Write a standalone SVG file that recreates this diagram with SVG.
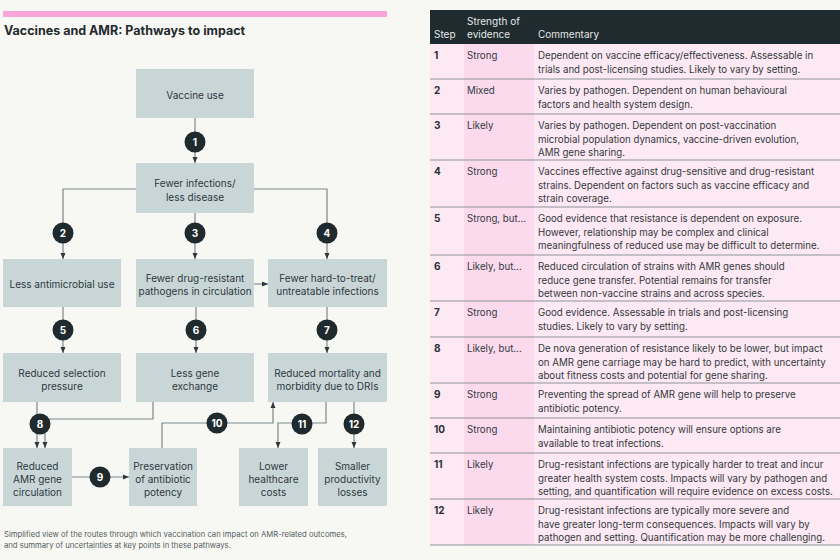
<svg xmlns="http://www.w3.org/2000/svg" width="840" height="560" viewBox="0 0 840 560">
<defs>
<style>
.f{font-family:Inter,"Liberation Sans",sans-serif}
.box{fill:#c9d6d8}
.bt{font-family:Inter,"Liberation Sans",sans-serif;font-size:10px;fill:#2e383d;text-anchor:middle}
.conn{stroke:#7d878b;stroke-width:1.2;fill:none}
.bc{fill:#1f2a2f}
.bn{font-family:Inter,"Liberation Sans",sans-serif;font-size:10px;font-weight:bold;fill:#ffffff;text-anchor:middle}
.th{font-family:Inter,"Liberation Sans",sans-serif;font-size:10px;fill:#e4e8e9}
.td{font-family:Inter,"Liberation Sans",sans-serif;font-size:9.7px;fill:#33393d}
.tn{font-family:Inter,"Liberation Sans",sans-serif;font-size:10px;fill:#2a2f33;font-weight:bold}
.sep{stroke:#8e9498;stroke-width:1.2}
</style>
<marker id="ah" markerUnits="userSpaceOnUse" markerWidth="6" markerHeight="6" refX="6" refY="3" orient="auto">
<path d="M0,0.5 L6,3 L0,5.5 z" fill="#2e383d"/>
</marker>
</defs>
<rect x="0" y="0" width="840" height="560" fill="#f7f8f4"/>
<rect x="3" y="11" width="384" height="6" fill="#fba6d9"/>
<text class="f" x="4" y="35" font-size="12.5" font-weight="bold" fill="#23292d">Vaccines and AMR: Pathways to impact</text>

<g id="connectors">
<path class="conn" d="M195,118 V163" marker-end="url(#ah)"/>
<path class="conn" d="M136,189 H63 V259" marker-end="url(#ah)"/>
<path class="conn" d="M254,189 H327 V259" marker-end="url(#ah)"/>
<path class="conn" d="M195,213 V259" marker-end="url(#ah)"/>
<path class="conn" d="M254,284 H268" marker-end="url(#ah)"/>
<path class="conn" d="M63,307 V353" marker-end="url(#ah)"/>
<path class="conn" d="M196,307 V353" marker-end="url(#ah)"/>
<path class="conn" d="M327,307 V353" marker-end="url(#ah)"/>
<path class="conn" d="M37,402 V448" marker-end="url(#ah)"/>
<path class="conn" d="M153,402 V419 H45 V448" marker-end="url(#ah)"/>
<path class="conn" d="M72,477 H129" marker-end="url(#ah)"/>
<path class="conn" d="M162,448 V423 H273 V402" marker-end="url(#ah)"/>
<path class="conn" d="M326,402 V423 H278 V448" marker-end="url(#ah)"/>
<path class="conn" d="M354,402 V448" marker-end="url(#ah)"/>
<g id="badges">
<circle class="bc" cx="195" cy="142" r="10.5"/><text class="bn" x="195" y="145.5">1</text>
<circle class="bc" cx="63" cy="233" r="10.5"/><text class="bn" x="63" y="236.5">2</text>
<circle class="bc" cx="195" cy="233" r="10.5"/><text class="bn" x="195" y="236.5">3</text>
<circle class="bc" cx="327" cy="233" r="10.5"/><text class="bn" x="327" y="236.5">4</text>
<circle class="bc" cx="63" cy="330" r="10.5"/><text class="bn" x="63" y="333.5">5</text>
<circle class="bc" cx="196" cy="330" r="10.5"/><text class="bn" x="196" y="333.5">6</text>
<circle class="bc" cx="327" cy="330" r="10.5"/><text class="bn" x="327" y="333.5">7</text>
<circle class="bc" cx="40" cy="424" r="10.5"/><text class="bn" x="40" y="427.5">8</text>
<circle class="bc" cx="100" cy="477" r="10.5"/><text class="bn" x="100" y="480.5">9</text>
<circle class="bc" cx="217" cy="423" r="10.5"/><text class="bn" x="217" y="426.5">10</text>
<circle class="bc" cx="302" cy="424" r="10.5"/><text class="bn" x="302" y="427.5">11</text>
<circle class="bc" cx="354" cy="424" r="10.5"/><text class="bn" x="354" y="427.5">12</text>
</g>
</g>

<g id="n-vaccine-use"><rect class="box" x="136" y="69" width="118" height="49"/><text class="bt" x="195" y="99">Vaccine use</text></g>
<g id="n-fewer-infections"><rect class="box" x="136" y="163" width="118" height="50"/><text class="bt" x="195" y="187">Fewer infections/</text><text class="bt" x="195" y="201">less disease</text></g>
<g id="n-less-antimicrobial"><rect class="box" x="3" y="259" width="118" height="48"/><text class="bt" x="62" y="288">Less antimicrobial use</text></g>
<g id="n-fewer-drug-resistant"><rect class="box" x="136" y="259" width="118" height="48"/><text class="bt" x="195" y="282">Fewer drug-resistant</text><text class="bt" x="195" y="295">pathogens in circulation</text></g>
<g id="n-fewer-hard-to-treat"><rect class="box" x="268" y="259" width="119" height="48"/><text class="bt" x="327.5" y="282">Fewer hard-to-treat/</text><text class="bt" x="327.5" y="295">untreatable infections</text></g>
<g id="n-reduced-selection"><rect class="box" x="3" y="353" width="118" height="49"/><text class="bt" x="62" y="377">Reduced selection</text><text class="bt" x="62" y="390">pressure</text></g>
<g id="n-less-gene-exchange"><rect class="box" x="136" y="353" width="118" height="49"/><text class="bt" x="195" y="377">Less gene</text><text class="bt" x="195" y="390">exchange</text></g>
<g id="n-reduced-mortality"><rect class="box" x="268" y="353" width="119" height="49"/><text class="bt" x="327.5" y="377">Reduced mortality and</text><text class="bt" x="327.5" y="390">morbidity due to DRIs</text></g>
<g id="n-reduced-amr-gene"><rect class="box" x="3" y="448" width="69" height="58"/><text class="bt" x="37.5" y="470">Reduced</text><text class="bt" x="37.5" y="483">AMR gene</text><text class="bt" x="37.5" y="496">circulation</text></g>
<g id="n-preservation"><rect class="box" x="129" y="448" width="68" height="58"/><text class="bt" x="163" y="470">Preservation</text><text class="bt" x="163" y="483">of antibiotic</text><text class="bt" x="163" y="496">potency</text></g>
<g id="n-lower-costs"><rect class="box" x="239" y="448" width="69" height="58"/><text class="bt" x="273.5" y="470">Lower</text><text class="bt" x="273.5" y="483">healthcare</text><text class="bt" x="273.5" y="496">costs</text></g>
<g id="n-smaller-losses"><rect class="box" x="318" y="448" width="69" height="58"/><text class="bt" x="352.5" y="470">Smaller</text><text class="bt" x="352.5" y="483">productivity</text><text class="bt" x="352.5" y="496">losses</text></g>

<g id="caption" class="f" font-size="7.7" fill="#555b5e">
<text x="4" y="537">Simplified view of the routes through which vaccination can impact on AMR-related outcomes,</text>
<text x="4" y="548">and summary of uncertainties at key points in these pathways.</text>
</g>

<g id="table">
<rect x="430" y="44" width="410" height="501" fill="#fde9f4"/>
<rect x="464" y="44" width="70" height="501" fill="#fbdaee"/>
<rect x="430" y="10" width="410" height="34" fill="#1f2b2e"/>
<text class="th" x="434" y="38">Step</text>
<text class="th" x="467" y="25">Strength of</text>
<text class="th" x="467" y="38">evidence</text>
<text class="th" x="538" y="38">Commentary</text>
<g id="seps">
<line class="sep" x1="430" y1="79" x2="840" y2="79"/>
<line class="sep" x1="430" y1="114" x2="840" y2="114"/>
<line class="sep" x1="430" y1="160" x2="840" y2="160"/>
<line class="sep" x1="430" y1="207" x2="840" y2="207"/>
<line class="sep" x1="430" y1="255" x2="840" y2="255"/>
<line class="sep" x1="430" y1="301" x2="840" y2="301"/>
<line class="sep" x1="430" y1="337" x2="840" y2="337"/>
<line class="sep" x1="430" y1="383" x2="840" y2="383"/>
<line class="sep" x1="430" y1="418" x2="840" y2="418"/>
<line class="sep" x1="430" y1="453" x2="840" y2="453"/>
<line class="sep" x1="430" y1="499" x2="840" y2="499"/>
<line class="sep" x1="430" y1="545" x2="840" y2="545"/>
</g>
<g id="row1"><text class="tn" x="434" y="59">1</text><text class="td" x="467" y="59">Strong</text><text class="td" x="538" y="59">Dependent on vaccine efficacy/effectiveness. Assessable in</text><text class="td" x="538" y="72.5">trials and post-licensing studies. Likely to vary by setting.</text></g>
<g id="row2"><text class="tn" x="434" y="94">2</text><text class="td" x="467" y="94">Mixed</text><text class="td" x="538" y="94">Varies by pathogen. Dependent on human behavioural</text><text class="td" x="538" y="107.5">factors and health system design.</text></g>
<g id="row3"><text class="tn" x="434" y="129">3</text><text class="td" x="467" y="129">Likely</text><text class="td" x="538" y="129">Varies by pathogen. Dependent on post-vaccination</text><text class="td" x="538" y="142.5">microbial population dynamics, vaccine-driven evolution,</text><text class="td" x="538" y="156">AMR gene sharing.</text></g>
<g id="row4"><text class="tn" x="434" y="175">4</text><text class="td" x="467" y="175">Strong</text><text class="td" x="538" y="175">Vaccines effective against drug-sensitive and drug-resistant</text><text class="td" x="538" y="188.5">strains. Dependent on factors such as vaccine efficacy and</text><text class="td" x="538" y="202">strain coverage.</text></g>
<g id="row5"><text class="tn" x="434" y="222">5</text><text class="td" x="467" y="222">Strong, but...</text><text class="td" x="538" y="222">Good evidence that resistance is dependent on exposure.</text><text class="td" x="538" y="235.5">However, relationship may be complex and clinical</text><text class="td" x="538" y="249">meaningfulness of reduced use may be difficult to determine.</text></g>
<g id="row6"><text class="tn" x="434" y="270">6</text><text class="td" x="467" y="270">Likely, but...</text><text class="td" x="538" y="270">Reduced circulation of strains with AMR genes should</text><text class="td" x="538" y="283.5">reduce gene transfer. Potential remains for transfer</text><text class="td" x="538" y="297">between non-vaccine strains and across species.</text></g>
<g id="row7"><text class="tn" x="434" y="316">7</text><text class="td" x="467" y="316">Strong</text><text class="td" x="538" y="316">Good evidence. Assessable in trials and post-licensing</text><text class="td" x="538" y="329.5">studies. Likely to vary by setting.</text></g>
<g id="row8"><text class="tn" x="434" y="352">8</text><text class="td" x="467" y="352">Likely, but...</text><text class="td" x="538" y="352">De nova generation of resistance likely to be lower, but impact</text><text class="td" x="538" y="365.5">on AMR gene carriage may be hard to predict, with uncertainty</text><text class="td" x="538" y="379">about fitness costs and potential for gene sharing.</text></g>
<g id="row9"><text class="tn" x="434" y="398">9</text><text class="td" x="467" y="398">Strong</text><text class="td" x="538" y="398">Preventing the spread of AMR gene will help to preserve</text><text class="td" x="538" y="411.5">antibiotic potency.</text></g>
<g id="row10"><text class="tn" x="434" y="433">10</text><text class="td" x="467" y="433">Strong</text><text class="td" x="538" y="433">Maintaining antibiotic potency will ensure options are</text><text class="td" x="538" y="446.5">available to treat infections.</text></g>
<g id="row11"><text class="tn" x="434" y="468">11</text><text class="td" x="467" y="468">Likely</text><text class="td" x="538" y="468">Drug-resistant infections are typically harder to treat and incur</text><text class="td" x="538" y="481.5">greater health system costs. Impacts will vary by pathogen and</text><text class="td" x="538" y="495">setting, and quantification will require evidence on excess costs.</text></g>
<g id="row12"><text class="tn" x="434" y="514">12</text><text class="td" x="467" y="514">Likely</text><text class="td" x="538" y="514">Drug-resistant infections are typically more severe and</text><text class="td" x="538" y="527.5">have greater long-term consequences. Impacts will vary by</text><text class="td" x="538" y="541">pathogen and setting. Quantification may be more challenging.</text></g>
</g>
</svg>
